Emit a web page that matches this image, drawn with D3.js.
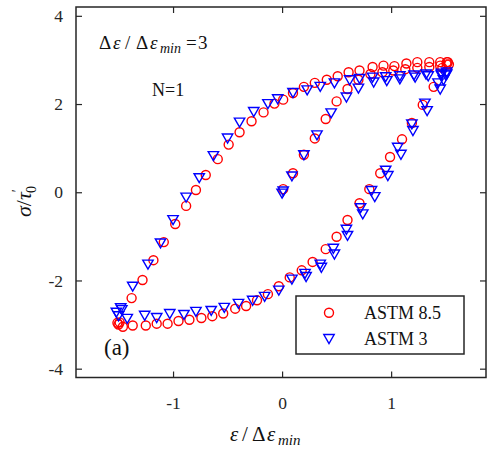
<!DOCTYPE html>
<html><head><meta charset="utf-8">
<script src="https://cdn.jsdelivr.net/npm/d3@7"></script>
<style>body{margin:0;background:#fff} svg{display:block} text{font-family:'Liberation Serif','Times New Roman',serif}</style>
</head><body><svg id="c" width="487" height="451"></svg>
<script>
const xTicks = [-1, 0, 1];
const yTicks = [-4, -2, 0, 2, 4];
const seriesNames = ["ASTM 8.5", "ASTM 3"];

// ASTM 8.5 (red circles): initial loading, unloading, reloading
const astm85X = [
  0.01,0.10,0.20,0.30,0.40,0.50,0.60,0.70,0.81,0.92,1.02,1.13,1.24,1.35,1.45,1.51,
  1.52,1.47,1.39,1.29,1.19,1.10,0.99,0.90,0.80,0.71,0.60,0.50,0.40,0.28,0.18,0.07,-0.03,-0.13,-0.23,-0.33,-0.43,-0.54,-0.64,-0.74,-0.85,-0.95,-1.05,-1.15,-1.25,-1.37,-1.46,-1.50,-1.51,
  -1.49,-1.38,-1.28,-1.18,-1.085,-0.98,-0.88,-0.79,-0.70,-0.59,-0.49,-0.39,-0.28,-0.17,-0.07,0.01,0.10,0.20,0.30,0.41,0.51,0.61,0.71,0.83,0.93,1.03,1.14,1.24,1.35,1.45,1.51,1.53
];
const astm85Y = [
  0.07,0.43,0.85,1.22,1.66,2.06,2.34,2.55,2.68,2.72,2.76,2.79,2.82,2.84,2.87,2.90,
  2.95,2.82,2.39,1.98,1.57,1.20,0.80,0.43,0.07,-0.25,-0.63,-1.01,-1.29,-1.58,-1.77,-1.93,-2.13,-2.31,-2.45,-2.58,-2.64,-2.75,-2.81,-2.85,-2.89,-2.92,-2.98,-2.98,-3.02,-3.02,-3.05,-3.00,-2.96,
  -2.95,-2.40,-1.99,-1.54,-1.13,-0.72,-0.31,0.05,0.39,0.75,1.08,1.36,1.61,1.81,2.01,2.10,2.25,2.39,2.48,2.55,2.63,2.72,2.76,2.84,2.87,2.86,2.92,2.95,2.95,2.95,2.95,2.90
];

// ASTM 3 (blue down-triangles): initial loading, unloading, reloading
const astm3X = [
  0.00,0.01,0.09,0.20,0.32,0.45,0.59,0.70,0.84,0.96,1.08,1.22,1.34,1.46,1.51,
  1.50,1.48,1.43,1.45,1.31,1.33,1.19,1.20,1.06,1.09,0.95,0.97,0.82,0.85,0.72,0.74,0.59,0.60,0.47,0.48,0.35,0.36,0.21,0.22,0.09,-0.03,-0.16,-0.27,-0.40,-0.53,-0.65,-0.79,-0.90,-1.03,-1.15,-1.26,-1.42,-1.50,
  -1.52,-1.48,-1.47,-1.37,-1.23,-1.115,-1.00,-0.88,-0.76,-0.63,-0.50,-0.39,-0.26,-0.13,-0.04,0.10,0.23,0.35,0.48,0.62,0.71,0.83,0.95,1.08,1.21,1.32,1.46,1.51
];
const astm3Y = [
  -0.02,0.03,0.37,0.85,1.30,1.80,2.16,2.36,2.50,2.53,2.57,2.61,2.64,2.66,2.68,
  2.66,2.55,2.48,2.34,2.02,1.85,1.55,1.40,1.02,0.86,0.50,0.38,0.04,-0.10,-0.35,-0.49,-0.84,-0.98,-1.27,-1.40,-1.63,-1.70,-1.84,-1.91,-1.97,-2.22,-2.36,-2.45,-2.52,-2.61,-2.68,-2.70,-2.77,-2.75,-2.84,-2.79,-2.86,-2.80,
  -2.72,-2.62,-2.66,-2.13,-1.63,-1.15,-0.62,-0.11,0.33,0.83,1.23,1.59,1.83,2.01,2.12,2.26,2.32,2.40,2.48,2.55,2.58,2.61,2.62,2.64,2.66,2.68,2.70,2.73
];

const svg = d3.select("#c");
const x = d3.scaleLinear().domain([-1.89, 1.87]).range([76, 486]);
const y = d3.scaleLinear().domain([-4.2, 4.2]).range([377.5, 7]);
const axisColor = "#262626";
const serif = "'Liberation Serif','Times New Roman',serif";
const red = "#ff0000", blue = "#0000ff";

function styleAxis(g, labels) {
  g.attr("font-family", serif);
  g.select(".domain").remove();
  g.selectAll(".tick line").attr("stroke", axisColor).attr("stroke-width", 1.2);
  g.selectAll(".tick text").attr("fill", axisColor).style("font-family", serif).attr("font-size", 17.5);
  if (!labels) g.selectAll(".tick text").remove();
}
svg.append("g").attr("transform", `translate(0,${y(-4.2)})`)
  .call(d3.axisBottom(x).tickValues(xTicks).tickSizeInner(-6).tickSizeOuter(0).tickPadding(19).tickFormat(d => String(d)))
  .call(g => styleAxis(g, true));
svg.append("g").attr("transform", `translate(0,${y(4.2)})`)
  .call(d3.axisTop(x).tickValues(xTicks).tickSizeInner(-6).tickSizeOuter(0))
  .call(g => styleAxis(g, false));
svg.append("g").attr("transform", `translate(${x(-1.89)},0)`)
  .call(d3.axisLeft(y).tickValues(yTicks).tickSizeInner(-6).tickSizeOuter(0).tickPadding(13).tickFormat(d => String(d)))
  .call(g => styleAxis(g, true));
svg.append("g").attr("transform", `translate(${x(1.87)},0)`)
  .call(d3.axisRight(y).tickValues(yTicks).tickSizeInner(-6).tickSizeOuter(0))
  .call(g => styleAxis(g, false));

svg.append("rect")
  .attr("x", x(-1.89)).attr("y", y(4.2))
  .attr("width", x(1.87) - x(-1.89)).attr("height", y(-4.2) - y(4.2))
  .attr("fill", "none").attr("stroke", axisColor).attr("stroke-width", 1.5);

const triPath = "M-5.2,-4 L5.2,-4 L0,5 Z";

// red circles
svg.append("g").selectAll("circle").data(d3.range(astm85X.length)).join("circle")
  .attr("cx", i => x(astm85X[i])).attr("cy", i => y(astm85Y[i])).attr("r", 4.5)
  .attr("fill", "none").attr("stroke", red).attr("stroke-width", 1.4);
// blue triangles
svg.append("g").selectAll("path").data(d3.range(astm3X.length)).join("path")
  .attr("transform", i => `translate(${x(astm3X[i])},${y(astm3Y[i])})`)
  .attr("d", triPath).attr("fill", "none").attr("stroke", blue).attr("stroke-width", 1.4);

// annotations
const ann = svg.append("text").attr("font-family", serif).attr("font-size", 19).attr("fill", "#111").attr("y", 49);
ann.append("tspan").attr("x", 99).text("Δ");
ann.append("tspan").attr("x", 113).attr("font-style", "italic").text("ε");
ann.append("tspan").attr("x", 125).text("/");
ann.append("tspan").attr("x", 136).text("Δ");
ann.append("tspan").attr("x", 150).attr("font-style", "italic").text("ε");
ann.append("tspan").attr("x", 160).attr("dy", 4).attr("font-size", 14).attr("font-style", "italic").text("min");
ann.append("tspan").attr("x", 186).attr("dy", -4).text("=");
ann.append("tspan").attr("x", 198).text("3");

svg.append("text").attr("x", 152).attr("y", 96).attr("font-family", serif).attr("font-size", 18).attr("fill", "#111").text("N=1");
svg.append("text").attr("x", 104).attr("y", 355).attr("font-family", serif).attr("font-size", 23).attr("fill", "#111").text("(a)");

// axis titles
const xt = svg.append("text").attr("font-family", serif).attr("font-size", 21).attr("fill", "#111").attr("y", 441);
xt.append("tspan").attr("x", 230).attr("font-style", "italic").text("ε");
xt.append("tspan").attr("x", 242).text("/");
xt.append("tspan").attr("x", 252).text("Δ");
xt.append("tspan").attr("x", 267).attr("font-style", "italic").text("ε");
xt.append("tspan").attr("x", 278).attr("dy", 4).attr("font-size", 15).attr("font-style", "italic").text("min");

const yt = svg.append("text").attr("font-family", serif).attr("font-size", 22).attr("fill", "#111")
  .attr("transform", "translate(31,217) rotate(-90)");
yt.append("tspan").attr("font-style", "italic").text("σ");
yt.append("tspan").text("/");
yt.append("tspan").attr("font-style", "italic").text("τ");
yt.append("tspan").attr("dy", -9).attr("font-size", 14).text("′");
yt.append("tspan").attr("dx", -4).attr("dy", 14).attr("font-size", 14).text("0");

// legend
const lg = svg.append("g");
lg.append("rect").attr("x", 296).attr("y", 296).attr("width", 168).attr("height", 58)
  .attr("fill", "#fff").attr("stroke", axisColor).attr("stroke-width", 1.5);
lg.append("circle").attr("cx", 329).attr("cy", 312.7).attr("r", 4.5)
  .attr("fill", "none").attr("stroke", red).attr("stroke-width", 1.4);
lg.append("path").attr("transform", "translate(329,338.5)").attr("d", triPath)
  .attr("fill", "none").attr("stroke", blue).attr("stroke-width", 1.4);
lg.selectAll("text.lab").data(seriesNames).join("text").attr("class", "lab")
  .attr("x", 364).attr("y", (d, i) => 318.5 + i * 26.5)
  .attr("font-family", serif).attr("font-size", 18).attr("fill", "#111").text(d => d);
</script>
</body></html>
